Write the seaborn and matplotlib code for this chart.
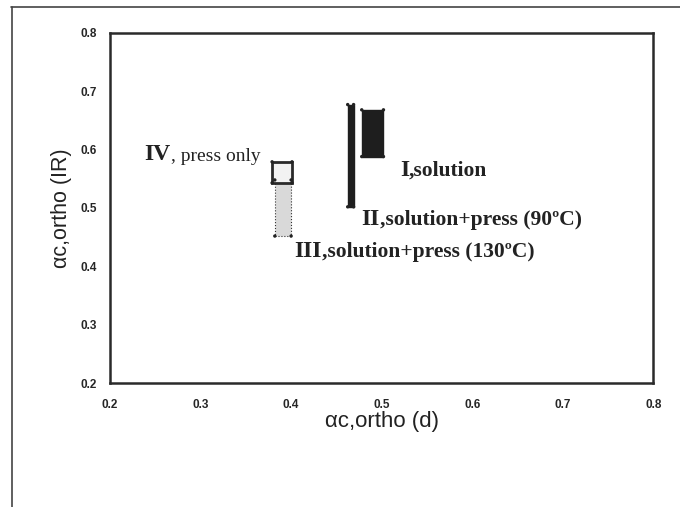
import matplotlib
matplotlib.use("Agg")
import matplotlib.pyplot as plt
from matplotlib.lines import Line2D
import seaborn as sns
import pandas as pd

# Ranges of the crystalline orthorhombic fraction from the two methods
samples = ["I", "II", "III", "IV"]
d_low = [0.478, 0.4625, 0.382, 0.379]
d_high = [0.502, 0.469, 0.400, 0.401]
ir_low = [0.588, 0.502, 0.452, 0.543]
ir_high = [0.668, 0.677, 0.548, 0.579]

numerals = ["I", "II", "III", "IV"]
captions = [",solution", ",solution+press (90ºC)", ",solution+press (130ºC)", ", press only"]
label_x = [0.520, 0.478, 0.404, 0.238]
label_y = [0.565, 0.481, 0.425, 0.591]

ticks = [0.2, 0.3, 0.4, 0.5, 0.6, 0.7, 0.8]

sns.set_style("white")
plt.rcParams["font.family"] = ["Liberation Sans", "DejaVu Sans"]

df = pd.DataFrame({"sample": samples, "d_low": d_low, "d_high": d_high,
                   "ir_low": ir_low, "ir_high": ir_high})

fig = plt.figure(figsize=(6.8, 5.07), dpi=100)
ax = fig.add_axes([0.1618, 0.2440, 0.9607 - 0.1618, 0.9355 - 0.2440])

face = {"I": "#1e1e1e", "II": "#1e1e1e", "III": "#d9d9d9", "IV": "#f2f2f2"}
edge = {"I": "#1e1e1e", "II": "#1e1e1e", "III": "#333333", "IV": "#2a2a2a"}
lw = {"I": 1.0, "II": 1.0, "III": 0.8, "IV": 2.0}
ls = {"I": "-", "II": "-", "III": ":", "IV": "-"}

for s in ["I", "II", "III", "IV"]:
    r = df[df["sample"] == s].iloc[0]
    ax.bar(r["d_low"], r["ir_high"] - r["ir_low"], width=r["d_high"] - r["d_low"],
           bottom=r["ir_low"], align="edge", color=face[s], edgecolor=edge[s],
           linewidth=lw[s], linestyle=ls[s], zorder=3)

# corner points of each range
corners = pd.DataFrame({
    "x": d_low + d_high + d_low + d_high,
    "y": ir_low + ir_low + ir_high + ir_high,
})
sns.scatterplot(data=corners, x="x", y="y", ax=ax, s=6, color="#222222",
                edgecolor="none", zorder=4, legend=False)

serif = ["Liberation Serif", "DejaVu Serif"]
for n, c, x, y in zip(numerals, captions, label_x, label_y):
    t = ax.annotate(n, (x, y), xycoords="data", fontsize=17, fontweight="bold",
                    family=serif, va="center", ha="left", color="#222222")
    cw = "normal" if n == "IV" else "bold"
    ax.annotate(c, xycoords=t, xy=(1, 0), xytext=(0, 0), textcoords="offset points",
                fontsize=15.5 if n != "IV" else 14, fontweight=cw, family=serif,
                va="bottom", ha="left", color="#222222")

ax.set_xlim(0.2, 0.8)
ax.set_ylim(0.2, 0.8)
ax.set_xticks(ticks)
ax.set_yticks(ticks)
ax.set_xticklabels([f"{t:.1f}" for t in ticks], fontsize=8.5, fontweight="bold")
ax.set_yticklabels([f"{t:.1f}" for t in ticks], fontsize=8.5, fontweight="bold")
ax.tick_params(direction="inout", length=7, width=1, color="#333333", pad=6)
ax.tick_params(axis="x", pad=8)
for sp in ax.spines.values():
    sp.set_linewidth(1.8)
    sp.set_color("#2a2a2a")

ax.set_xlabel("αc,ortho (d)", fontsize=16, labelpad=0, color="#222222")
ax.set_ylabel("αc,ortho (IR)", fontsize=15.5, labelpad=6, color="#222222")

# outer frame around the chart area
fig.add_artist(Line2D([11 / 680, 1.0], [1 - 7 / 507, 1 - 7 / 507],
                      transform=fig.transFigure, color="#444444", lw=1.2))
fig.add_artist(Line2D([11.5 / 680, 11.5 / 680], [0, 1 - 7 / 507],
                      transform=fig.transFigure, color="#444444", lw=1.2))

fig.savefig("out.png", dpi=100)
